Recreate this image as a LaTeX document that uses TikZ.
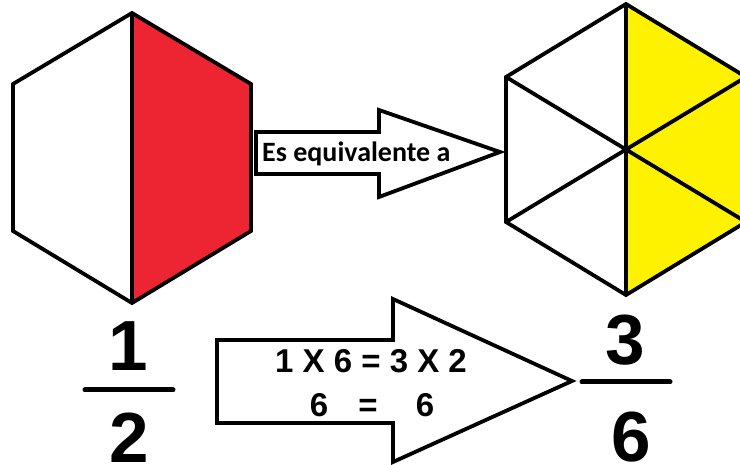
\documentclass[tikz,border=0pt]{standalone}
\usepackage{fontspec}
\setmainfont{Liberation Sans}
\newfontfamily\calibfont{Carlito}
\definecolor{hexred}{RGB}{237,36,50}
\definecolor{hexyellow}{RGB}{255,242,0}
\begin{document}
\begin{tikzpicture}[x=1pt,y=-1pt,
  outline/.style={draw=black,line width=3.8pt,line join=miter},
  arrowshape/.style={draw=black,line width=3.8pt,line join=miter,fill=white},
  bigdigit/.style={inner sep=0pt,anchor=base,font=\fontsize{71}{71}\selectfont\bfseries},
  eqtext/.style={inner sep=0pt,anchor=base,font=\fontsize{33}{33}\selectfont\bfseries},
  fracbar/.style={draw=black,line width=5pt,line cap=round}]
\useasboundingbox (0,0) rectangle (740,465);
\clip (0,0) rectangle (740,465);
\fill[white] (0,0) rectangle (740,465);

% left hexagon 1/2
\coordinate (LT) at (132,13);
\coordinate (LTR) at (251,84);
\coordinate (LBR) at (251,231);
\coordinate (LB) at (132,303);
\coordinate (LBL) at (13,231);
\coordinate (LTL) at (13,84);
\fill[hexred] (LT) -- (LTR) -- (LBR) -- (LB) -- cycle;
\draw[outline] (LT) -- (LTR) -- (LBR) -- (LB) -- (LBL) -- (LTL) -- cycle;
\draw[outline] (LT) -- (LB);

% right hexagon 3/6
\coordinate (RC) at (626,150);
\coordinate (RT) at (626,4);
\coordinate (RTR) at (746,77);
\coordinate (RBR) at (746,222);
\coordinate (RB) at (626,295);
\coordinate (RBL) at (506,222);
\coordinate (RTL) at (506,77);
\fill[hexyellow] (RT) -- (RTR) -- (RBR) -- (RB) -- cycle;
\draw[outline] (RT) -- (RTR) -- (RBR) -- (RB) -- (RBL) -- (RTL) -- cycle;
\draw[outline] (RT) -- (RB) (RTL) -- (RBR) (RBL) -- (RTR);

% upper arrow
\draw[arrowshape] (256,132) -- (379,132) -- (379,110) -- (500,152) -- (379,197) -- (379,174) -- (256,174) -- cycle;
\node[inner sep=0pt,anchor=base west,font=\calibfont\fontsize{28}{28}\selectfont\bfseries] (eqlabel) at (262,162) {Es equivalente a};

% lower arrow
\draw[arrowshape] (217,340) -- (393,340) -- (393,299) -- (572,381) -- (393,462) -- (393,423) -- (217,423) -- cycle;
\node[eqtext] (line1) at (371,373) {1 X 6 = 3 X 2};
\node[eqtext] (line2a) at (319,417) {6};
\node[eqtext] (line2b) at (368,417) {=};
\node[eqtext] (line2c) at (425,417) {6};

% fraction 1/2
\node[bigdigit] (numL) at (128,371) {1};
\draw[fracbar] (85,390) -- (173,390);
\node[bigdigit] (denL) at (129,462) {2};

% fraction 3/6
\node[bigdigit] (numR) at (625,365) {3};
\draw[fracbar] (582,382) -- (670,382);
\node[bigdigit] (denR) at (631,461) {6};
\end{tikzpicture}
\end{document}
